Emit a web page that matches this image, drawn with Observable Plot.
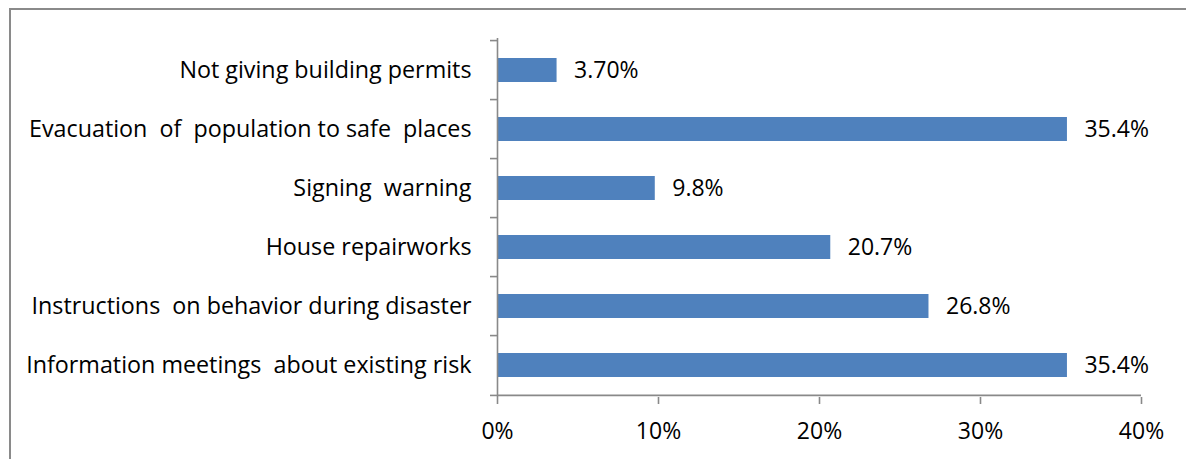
<!DOCTYPE html>
<html>
<head>
<meta charset="utf-8">
<script src="https://cdn.jsdelivr.net/npm/d3@7"></script>
<script src="https://cdn.jsdelivr.net/npm/@observablehq/plot@0.6"></script>
<style>
  html, body { margin: 0; padding: 0; background: #fff; }
  #wrap { position: relative; width: 1186px; height: 459px; overflow: hidden; }
  #frame { position: absolute; left: 9px; top: 8px; right: 0; bottom: -10px;
           border-top: 2px solid #8a8a8a; border-left: 2px solid #8a8a8a; pointer-events: none; }
  svg text { white-space: pre; }
</style>
</head>
<body>
<div id="wrap"><div id="frame"></div></div>
<script>
const categories = [
  "Not giving building permits",
  "Evacuation  of  population to safe  places",
  "Signing  warning",
  "House repairworks",
  "Instructions  on behavior during disaster",
  "Information meetings  about existing risk"
];
const values = [3.7, 35.4, 9.8, 20.7, 26.8, 35.4];
const valueLabels = ["3.70%", "35.4%", "9.8%", "20.7%", "26.8%", "35.4%"];
const xTicks = [0, 10, 20, 30, 40];

const data = categories.map((c, i) => ({category: c, value: values[i], label: valueLabels[i]}));

const W = 1186, H = 459;
const mT = 38, mB = 62, mL = 497, mR = 45;
const step = (H - mT - mB) / categories.length;
const font = "Open Sans, sans-serif";
const axisColor = "#898989";

const chart = Plot.plot({
  width: W,
  height: H,
  marginTop: mT,
  marginBottom: mB,
  marginLeft: mL,
  marginRight: mR,
  style: {fontFamily: font, fontSize: "23px", color: "#000", background: "transparent"},
  x: {domain: [0, 40], ticks: xTicks, label: null},
  y: {domain: categories, paddingInner: 0.6, paddingOuter: 0.3, label: null},
  marks: [
    Plot.barX(data, {x: "value", y: "category", fill: "#4F81BD"}),
    Plot.text(data, {x: "value", y: "category", text: "label", textAnchor: "start", dx: 17,
                     fontSize: 23, fill: "#000"}),
    // y axis line
    Plot.ruleX([0], {stroke: axisColor, strokeWidth: 1.6}),
    // band boundary ticks on the y axis
    Plot.ruleY(categories, {y: d => d, x1: 0, x2: 0, insetLeft: -7, dy: -step / 2,
                            stroke: axisColor, strokeWidth: 1.6}),
    Plot.ruleY(categories.slice(-1), {y: d => d, x1: 0, x2: 0, insetLeft: -7, dy: step / 2,
                            stroke: axisColor, strokeWidth: 1.6}),
    // x axis line
    Plot.ruleY(categories.slice(-1), {y: d => d, x1: 0, x2: 40, dy: step / 2,
                            stroke: axisColor, strokeWidth: 1.6}),
    Plot.axisX({ticks: xTicks, tickSize: 7, tickPadding: 18, tickFormat: d => d + "%",
                stroke: axisColor, strokeWidth: 1.6, fill: "#000", fontSize: 23, label: null}),
    Plot.axisY({tickSize: 0, tickPadding: 26, fill: "#000", fontSize: 23.3, label: null})
  ]
});
document.getElementById("wrap").prepend(chart);
</script>
</body>
</html>
